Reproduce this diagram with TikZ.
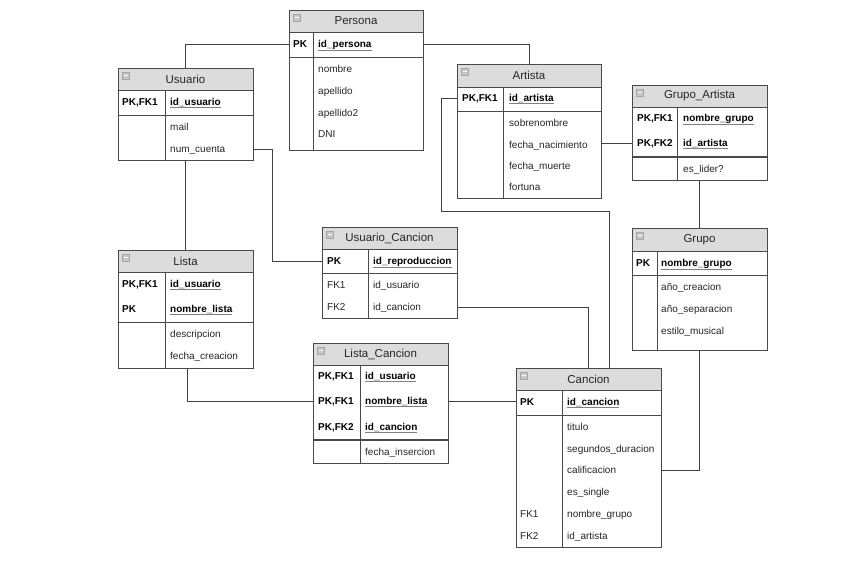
\documentclass[tikz,border=0pt]{standalone}
\usepackage{fontspec}
\setmainfont{Liberation Sans}
\usetikzlibrary{calc}

\definecolor{borde}{HTML}{4A4A4A}
\definecolor{gris}{HTML}{DCDCDC}
\newcommand{\subr}[1]{{\color{gray}\underline{\color{black}#1}}}

\begin{document}
\begin{tikzpicture}[x=1pt,y=-1pt,
	caja/.style={draw=borde, line width=1pt, fill=white, anchor=north west, inner sep=0pt, outer sep=0pt},
	cabecera/.style={draw=borde, line width=1pt, fill=gris},
	linea/.style={draw=borde, line width=1pt},
	icono/.style={draw=gray!70, fill=gray!45, line width=0.4pt},
	titulo/.style={font=\fontsize{11.5}{13}\selectfont, text=black!85},
	clave/.style={font=\bfseries\fontsize{10}{12}\selectfont, anchor=west, inner sep=0pt, text height=8pt, text depth=2pt},
	attr/.style={font=\fontsize{10}{12}\selectfont, anchor=west, inner sep=0pt, text height=8pt, text depth=2pt, text=black!85},
	enlace/.style={draw=black!75, line width=0.9pt}]
	\begin{scope}
\useasboundingbox (0,0) rectangle (848,565);

% Persona
\node[caja, minimum width=134pt, minimum height=140pt] (persona) at (289,10) {};
\draw[cabecera] (289,10) rectangle (423,32);
\draw[icono] (293,14) rectangle ++(7,7);
\draw[white, line width=0.8pt] (294.5,17.5) -- ++(4,0);
\node[titulo] (persona-t) at (356,21) {Persona};
\draw[linea] (313,32) -- (313,150);
\draw[linea] (289,57) -- (423,57);
\node[clave] (per-k1) at (293,44) {PK};
\node[clave] (per-p1) at (318,44) {\subr{id\_persona}};
\node[attr] (per-a1) at (318,69) {nombre};
\node[attr] (per-a2) at (318,91) {apellido};
\node[attr] (per-a3) at (318,113) {apellido2};
\node[attr] (per-a4) at (318,134) {DNI};

% Usuario
\node[caja, minimum width=135pt, minimum height=92pt] (usuario) at (118,68) {};
\draw[cabecera] (118,68) rectangle (253,90);
\draw[icono] (122,72) rectangle ++(7,7);
\draw[white, line width=0.8pt] (123.5,75.5) -- ++(4,0);
\node[titulo] (usuario-t) at (185.5,79) {Usuario};
\draw[linea] (165,90) -- (165,160);
\draw[linea] (118,115) -- (253,115);
\node[clave] (usu-k1) at (122,102) {PK,FK1};
\node[clave] (usu-p1) at (170,102) {\subr{id\_usuario}};
\node[attr] (usu-a1) at (170,127) {mail};
\node[attr] (usu-a2) at (170,149) {num\_cuenta};

% Artista
\node[caja, minimum width=144pt, minimum height=134pt] (artista) at (457,64) {};
\draw[cabecera] (457,64) rectangle (601,87);
\draw[icono] (461,68) rectangle ++(7,7);
\draw[white, line width=0.8pt] (462.5,71.5) -- ++(4,0);
\node[titulo] (artista-t) at (529,75.5) {Artista};
\draw[linea] (503,87) -- (503,198);
\draw[linea] (457,111) -- (601,111);
\node[clave] (art-k1) at (462,98) {PK,FK1};
\node[clave] (art-p1) at (509,98) {\subr{id\_artista}};
\node[attr] (art-a1) at (509,123) {sobrenombre};
\node[attr] (art-a2) at (509,145) {fecha\_nacimiento};
\node[attr] (art-a3) at (509,166) {fecha\_muerte};
\node[attr] (art-a4) at (509,187) {fortuna};

% Grupo_Artista
\node[caja, minimum width=135pt, minimum height=95pt] (gart) at (632,85) {};
\draw[cabecera] (632,85) rectangle (767,107);
\draw[icono] (636,89) rectangle ++(7,7);
\draw[white, line width=0.8pt] (637.5,92.5) -- ++(4,0);
\node[titulo] (gart-t) at (699.5,96) {Grupo\_Artista};
\draw[linea] (677,107) -- (677,180);
\draw[linea, line width=1.4pt] (632,157) -- (767,157);
\node[clave] (gart-k1) at (637,118) {PK,FK1};
\node[clave] (gart-p1) at (683,118) {\subr{nombre\_grupo}};
\node[clave] (gart-k2) at (637,143) {PK,FK2};
\node[clave] (gart-p2) at (683,143) {\subr{id\_artista}};
\node[attr] (gart-a1) at (683,169) {es\_lider?};

% Grupo
\node[caja, minimum width=135pt, minimum height=122pt] (grupo) at (632,228) {};
\draw[cabecera] (632,228) rectangle (767,251);
\draw[icono] (636,232) rectangle ++(7,7);
\draw[white, line width=0.8pt] (637.5,235.5) -- ++(4,0);
\node[titulo] (grupo-t) at (699.5,239.5) {Grupo};
\draw[linea] (657,251) -- (657,350);
\draw[linea] (632,275) -- (767,275);
\node[clave] (gru-k1) at (636,263) {PK};
\node[clave] (gru-p1) at (661,263) {\subr{nombre\_grupo}};
\node[attr] (gru-a1) at (661,287) {año\_creacion};
\node[attr] (gru-a2) at (661,309) {año\_separacion};
\node[attr] (gru-a3) at (661,331) {estilo\_musical};

% Lista
\node[caja, minimum width=135pt, minimum height=118pt] (lista) at (118,250) {};
\draw[cabecera] (118,250) rectangle (253,272);
\draw[icono] (122,254) rectangle ++(7,7);
\draw[white, line width=0.8pt] (123.5,257.5) -- ++(4,0);
\node[titulo] (lista-t) at (185.5,261) {Lista};
\draw[linea] (165,272) -- (165,368);
\draw[linea] (118,322) -- (253,322);
\node[clave] (lis-k1) at (122,284) {PK,FK1};
\node[clave] (lis-p1) at (170,284) {\subr{id\_usuario}};
\node[clave] (lis-k2) at (122,309) {PK};
\node[clave] (lis-p2) at (170,309) {\subr{nombre\_lista}};
\node[attr] (lis-a1) at (170,334) {descripcion};
\node[attr] (lis-a2) at (170,356) {fecha\_creacion};

% Usuario_Cancion
\node[caja, minimum width=135pt, minimum height=91pt] (ucan) at (322,227) {};
\draw[cabecera] (322,227) rectangle (457,249);
\draw[icono] (326,231) rectangle ++(7,7);
\draw[white, line width=0.8pt] (327.5,234.5) -- ++(4,0);
\node[titulo] (ucan-t) at (389.5,238) {Usuario\_Cancion};
\draw[linea] (368,249) -- (368,318);
\draw[linea] (322,273) -- (457,273);
\node[clave] (uc-k1) at (327,261) {PK};
\node[clave] (uc-p1) at (373,261) {\subr{id\_reproduccion}};
\node[attr] (uc-k2) at (327,285) {FK1};
\node[attr] (uc-a1) at (373,285) {id\_usuario};
\node[attr] (uc-k3) at (327,307) {FK2};
\node[attr] (uc-a2) at (373,307) {id\_cancion};

% Lista_Cancion
\node[caja, minimum width=135pt, minimum height=120pt] (lcan) at (313,343) {};
\draw[cabecera] (313,343) rectangle (448,365);
\draw[icono] (317,347) rectangle ++(7,7);
\draw[white, line width=0.8pt] (318.5,350.5) -- ++(4,0);
\node[titulo] (lcan-t) at (380.5,354) {Lista\_Cancion};
\draw[linea] (360,365) -- (360,463);
\draw[linea, line width=1.4pt] (313,440) -- (448,440);
\node[clave] (lc-k1) at (318,376) {PK,FK1};
\node[clave] (lc-p1) at (365,376) {\subr{id\_usuario}};
\node[clave] (lc-k2) at (318,401) {PK,FK1};
\node[clave] (lc-p2) at (365,401) {\subr{nombre\_lista}};
\node[clave] (lc-k3) at (318,427) {PK,FK2};
\node[clave] (lc-p3) at (365,427) {\subr{id\_cancion}};
\node[attr] (lc-a1) at (365,452) {fecha\_insercion};

% Cancion
\node[caja, minimum width=145pt, minimum height=179pt] (cancion) at (516,368) {};
\draw[cabecera] (516,368) rectangle (661,390);
\draw[icono] (520,372) rectangle ++(7,7);
\draw[white, line width=0.8pt] (521.5,375.5) -- ++(4,0);
\node[titulo] (cancion-t) at (588.5,379) {Cancion};
\draw[linea] (562,390) -- (562,547);
\draw[linea] (516,415) -- (661,415);
\node[clave] (can-k1) at (520,402) {PK};
\node[clave] (can-p1) at (567,402) {\subr{id\_cancion}};
\node[attr] (can-a1) at (567,427) {titulo};
\node[attr] (can-a2) at (567,449) {segundos\_duracion};
\node[attr] (can-a3) at (567,470) {calificacion};
\node[attr] (can-a4) at (567,492) {es\_single};
\node[attr] (can-k2) at (520,514) {FK1};
\node[attr] (can-a5) at (567,514) {nombre\_grupo};
\node[attr] (can-k3) at (520,536) {FK2};
\node[attr] (can-a6) at (567,536) {id\_artista};

% relaciones
\draw[enlace] (persona.west |- per-k1) -| (usuario.north);
\draw[enlace] (persona.east |- per-k1) -| (artista.north);
\draw[enlace] (usuario.south) -- (lista.north);
\draw[enlace] (usuario.east |- usu-a2) -- ++(19,0) |- (ucan.west |- uc-k1);
\draw[enlace] (ucan.east |- uc-a2) -| (cancion.north);
\draw[enlace] (artista.west |- art-k1) -- ++(-16,0) -- ++(0,113) -| ([xshift=20.5pt]cancion.north);
\draw[enlace] (artista.east |- gart-k2) -- (gart.west |- gart-k2);
\draw[enlace] (gart.south) -- (grupo.north);
\draw[enlace] (grupo.south) |- (cancion.east |- can-a3);
\draw[enlace] ([xshift=2pt]lista.south) |- (lcan.west |- lc-k2);
\draw[enlace] (lcan.east |- lc-k2) -- (cancion.west |- lc-k2);

	\end{scope}
\end{tikzpicture}
\end{document}
